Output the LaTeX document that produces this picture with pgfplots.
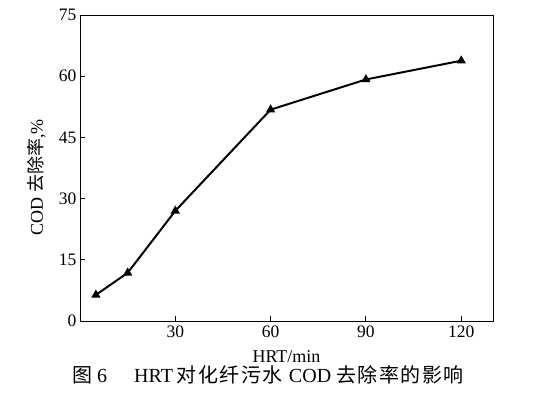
\documentclass[border=0pt]{standalone}
\usepackage{fontspec}
\setmainfont{Liberation Serif}
\newfontfamily\cjk{Noto Sans CJK SC}
\usepackage{pgfplots}
\pgfplotsset{compat=1.18}
\newcommand\ck{\kern1.5bp}
\begin{document}
\begin{tikzpicture}
\begin{axis}[
  scale only axis,
  width=413bp, height=306bp,
  xmin=0, xmax=130, ymin=0, ymax=75,
  xtick={30,60,90,120}, ytick={0,15,30,45,60,75},
  axis line style={line width=1pt},
  tick style={line width=1pt, black},
  tick align=inside,
  major tick length=5bp,
  xtick pos=bottom, ytick pos=left,
  /pgf/number format/assume math mode=true,
  tick label style={font=\fontsize{17.5bp}{20bp}\selectfont},
  xticklabel style={yshift=-1bp},
  label style={font=\fontsize{18bp}{21bp}\selectfont},
  xlabel={HRT/min},
  xlabel style={at={(axis description cs:0.5,0)}, anchor=center, yshift=-36bp},
  ylabel={COD {\cjk 去除率},\%},
  ylabel style={at={(axis description cs:-0.105,0.47)}, anchor=center},
  clip=false,
]
\addplot[black, line width=2pt, mark=triangle*, mark size=3.4pt] coordinates {
  (5,6.4) (15,11.8) (30,27) (60,51.8) (90,59.2) (120,63.8)
};
\coordinate (O) at (axis cs:0,0);
\end{axis}
\path (O) ++(-80bp,-75bp) rectangle ++(536bp,396bp);
\node[anchor=west, inner sep=0pt, font=\fontsize{20bp}{24bp}\selectfont] at ([shift={(-8bp,-54bp)}]O) {{\cjk 图} 6\hspace{27bp}HRT\hspace{4bp}{\cjk 对\ck 化\ck 纤\ck 污\ck 水}\hspace{6bp}COD\hspace{5bp}{\cjk 去\ck 除\ck 率\ck 的\ck 影\ck 响}};
\end{tikzpicture}
\end{document}
